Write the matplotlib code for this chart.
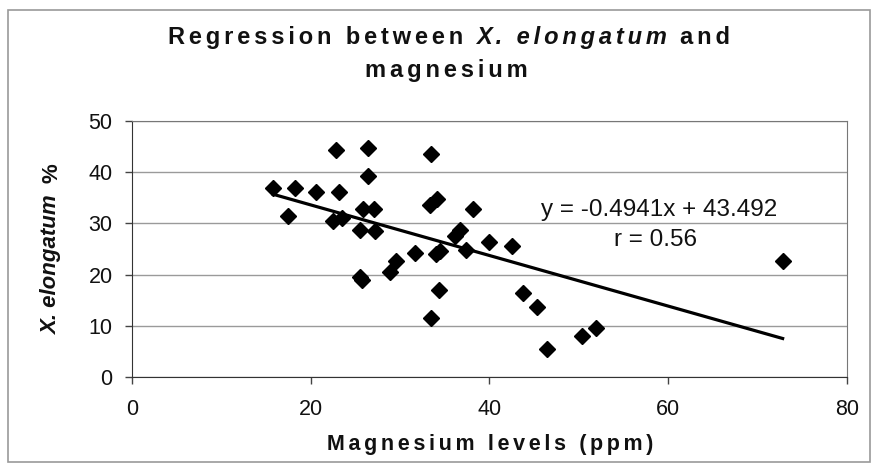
import numpy as np
import matplotlib.pyplot as plt
from matplotlib.patches import Rectangle

plt.rcParams['font.family'] = ['Liberation Sans', 'DejaVu Sans']

# magnesium (ppm) and X. elongatum (%) per sample
magnesium = [15.8, 18.2, 20.6, 23.2, 17.4, 22.8, 26.4, 26.4, 25.9, 27.1,
             22.5, 23.5, 25.5, 27.2, 33.5, 34.1, 33.3, 38.2, 36.7, 36.1,
             39.9, 42.5, 37.4, 34.0, 34.5, 31.7, 29.5, 28.9, 25.5, 25.7,
             34.3, 33.4, 43.7, 45.3, 46.4, 50.3, 51.9, 72.8]
elongatum = [37.0, 37.0, 36.1, 36.1, 31.4, 44.4, 44.8, 39.2, 32.9, 32.9,
             30.5, 31.1, 28.8, 28.5, 43.6, 34.8, 33.5, 32.8, 28.7, 27.5,
             26.4, 25.5, 24.9, 24.0, 24.6, 24.2, 22.7, 20.5, 19.6, 18.9,
             16.9, 11.5, 16.4, 13.7, 5.4, 8.0, 9.6, 22.7]

slope = -0.4941
intercept = 43.492
r_value = 0.56

W, H = 876, 469
fig = plt.figure(figsize=(W / 100, H / 100), dpi=100)
ax = fig.add_axes([132 / W, 1 - 377 / H, 715 / W, 256 / H])

ax.plot(magnesium, elongatum, linestyle='none', marker='D', markersize=8,
        color='black')
xfit = np.array([min(magnesium), max(magnesium)])
ax.plot(xfit, slope * xfit + intercept, color='black', lw=2.3)

ax.set_xlim(0, 80)
ax.set_ylim(0, 50)
ax.set_xticks(range(0, 81, 20))
ax.set_yticks(range(0, 51, 10))
ax.yaxis.grid(True, color='#9a9a9a', lw=1)
ax.set_axisbelow(True)
ax.tick_params(direction='out', length=5, width=1, labelsize=15.5,
               color='#444', labelcolor='#111')
ax.tick_params(axis='y', pad=9)
ax.tick_params(axis='x', pad=11)
for side in ['left', 'bottom']:
    ax.spines[side].set_color('#333')
for side in ['top', 'right']:
    ax.spines[side].set_color('#777')

ax.text(59.0, 32.6, f'y = {slope}x + {intercept}', ha='center', va='center',
        fontsize=17.5, color='#111')
ax.text(58.6, 26.7, f'r = {r_value}', ha='center', va='center',
        fontsize=17.5, color='#111')

renderer = fig.canvas.get_renderer()


def tracked(s):
    # letter-spaced string: six-per-em space between every character
    return '\u2006'.join(s)


def runs_centered(runs, xc, y, gap, **kw):
    # lay out differently styled pieces side by side, centred on xc (pixels)
    texts = [fig.text(0, y, s, fontstyle=st, **kw) for s, st in runs]
    widths = [t.get_window_extent(renderer).width for t in texts]
    x = xc - (sum(widths) + gap * (len(runs) - 1)) / 2
    for t, w in zip(texts, widths):
        t.set_x(x / W)
        x += w + gap


runs_centered([(tracked('Regression between'), 'normal'),
               (tracked('X. elongatum'), 'italic'),
               (tracked('and'), 'normal')], 449, 1 - 44 / H, 13,
              fontsize=17, fontweight='bold', va='baseline', color='#111')
fig.text(446 / W, 1 - 77 / H, tracked('magnesium'), ha='center',
         va='baseline', fontsize=17, fontweight='bold', color='#111')

fig.text(490 / W, 1 - 450 / H, tracked('Magnesium levels (ppm)'),
         ha='center', va='baseline', fontsize=15.5, fontweight='bold',
         color='#111')

fig.text(52 / W, 1 - 335 / H, 'X. elongatum', rotation=90, ha='center',
         va='bottom', fontsize=16, fontweight='bold', fontstyle='italic',
         color='#111')
fig.text(52 / W, 1 - 183 / H, '%', rotation=90, ha='center', va='bottom',
         fontsize=16, fontweight='bold', color='#111')

# outer chart border
fig.patches.append(Rectangle((8 / W, 1 - 462 / H), 862 / W, 452 / H,
                             transform=fig.transFigure, fill=False,
                             edgecolor='#9a9a9a', lw=1.2))

fig.savefig('out.png', dpi=100)
